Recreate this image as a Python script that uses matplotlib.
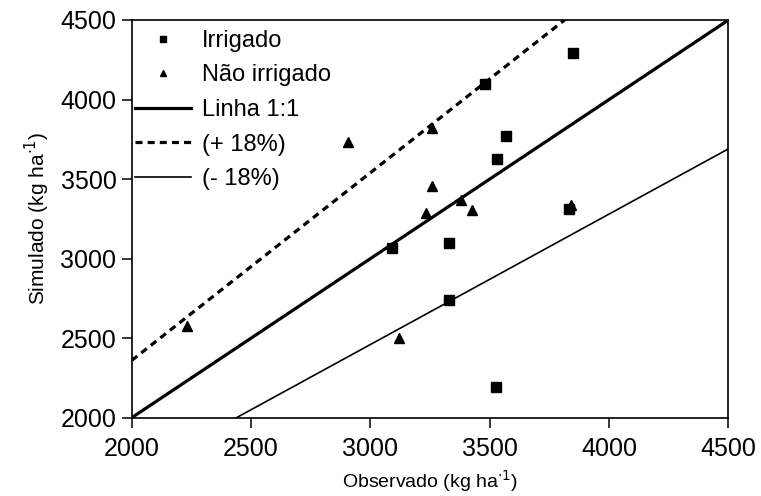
import matplotlib
matplotlib.use("Agg")
import matplotlib.pyplot as plt
import numpy as np

plt.rcParams['font.family'] = ['Liberation Sans', 'DejaVu Sans']

# Data (kg/ha)
irrigado_obs = [3090, 3330, 3330, 3525, 3530, 3570, 3480, 3850, 3830]
irrigado_sim = [3065, 3100, 2740, 2195, 3625, 3770, 4100, 4290, 3310]
nao_irr_obs = [2230, 2905, 3120, 3235, 3260, 3260, 3380, 3425, 3840]
nao_irr_sim = [2575, 3730, 2500, 3285, 3455, 3820, 3370, 3305, 3335]

line_x = [2000, 4500]
factor_upper = 1.18
factor_lower = 0.82
ticks = [2000, 2500, 3000, 3500, 4000, 4500]

fig = plt.figure(figsize=(7.61, 4.96), dpi=100)
ax = fig.add_axes([0.1731, 0.1579, 0.9572 - 0.1731, 0.9597 - 0.1579])

ax.plot(irrigado_obs, irrigado_sim, linestyle='none', marker='s', color='black',
        markersize=6.5, label='Irrigado', zorder=5)
ax.plot(nao_irr_obs, nao_irr_sim, linestyle='none', marker='^', color='black',
        markersize=6.5, label='Não irrigado', zorder=5)
lx = np.array(line_x, dtype=float)
ax.plot(lx, lx, color='black', linewidth=2.3, label='Linha 1:1')
ax.plot(lx, lx * factor_upper, color='black', linewidth=2.3, linestyle=(0, (2.2, 1.6)),
        label='(+ 18%)')
ax.plot(lx, lx * factor_lower, color='black', linewidth=1.2, label='(- 18%)')

ax.set_xlim(2000, 4500)
ax.set_ylim(2000, 4500)
ax.set_xticks(ticks)
ax.set_yticks(ticks)
ax.tick_params(direction='out', length=7, width=1.1, labelsize=18, pad=4,
               top=False, right=False)
ax.tick_params(axis='x', pad=7)
for s in ax.spines.values():
    s.set_linewidth(1.2)

ax.set_xlabel('Observado (kg ha$^{\\cdot1}$)', fontsize=14, labelpad=5)
ax.set_ylabel('Simulado (kg ha$^{\\cdot1}$)', fontsize=15, labelpad=6)

leg = ax.legend(loc='upper left', bbox_to_anchor=(0.0, 0.982), frameon=False,
                fontsize=17, handlelength=2.4, handletextpad=0.45,
                labelspacing=0.53, borderaxespad=0.0, borderpad=0.12,
                markerscale=0.75)

fig.savefig('out.png', dpi=100)
